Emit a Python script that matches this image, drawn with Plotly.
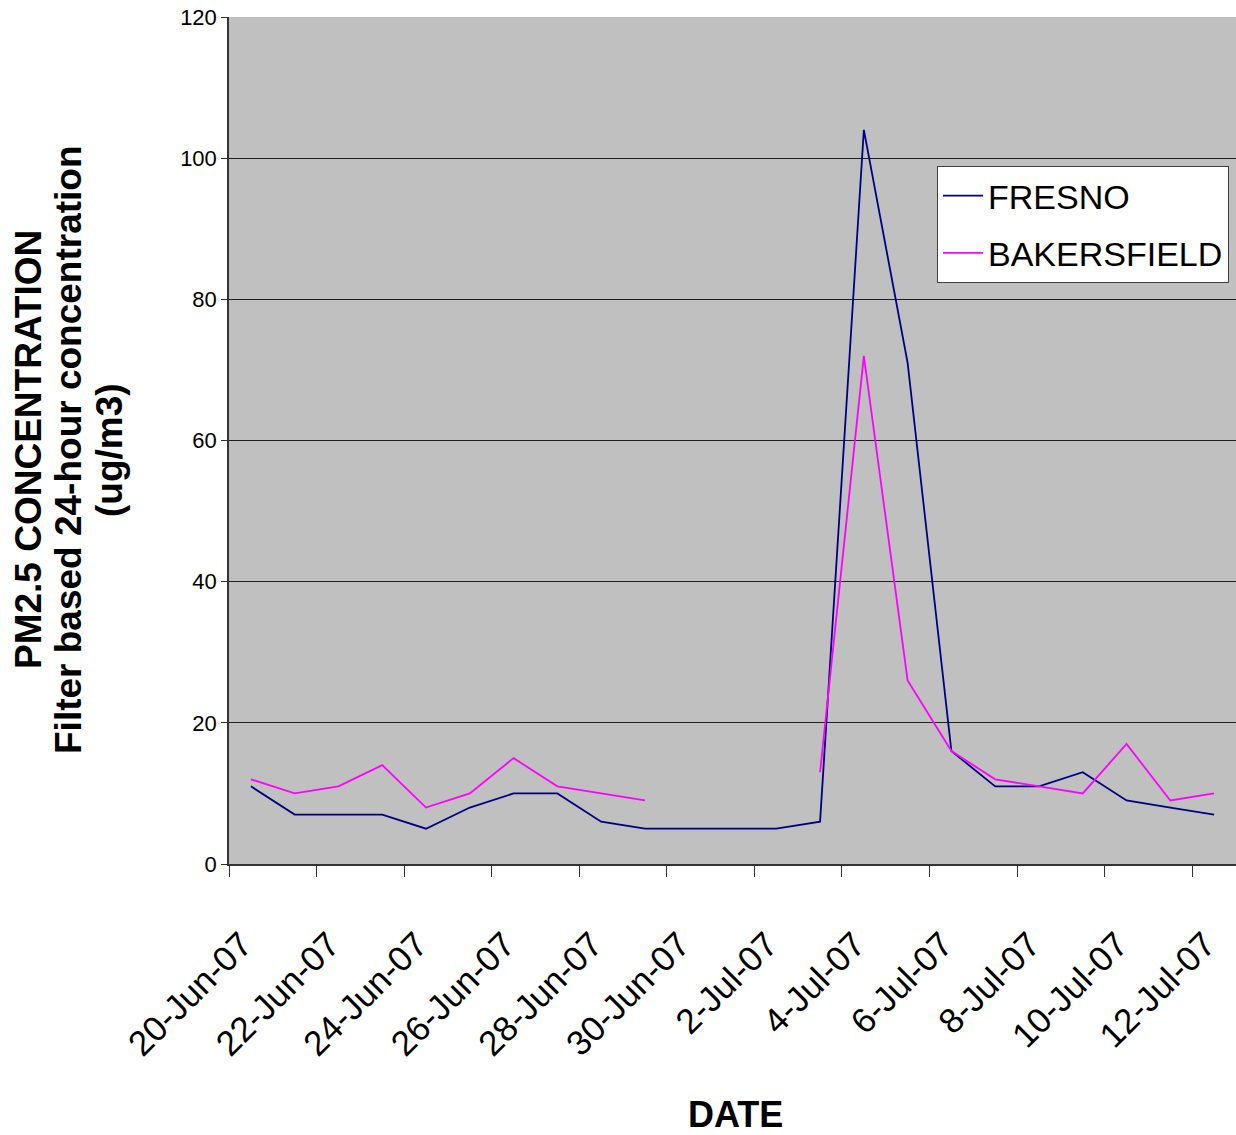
import plotly.graph_objects as go

dates = ["20-Jun-07", "21-Jun-07", "22-Jun-07", "23-Jun-07", "24-Jun-07", "25-Jun-07",
         "26-Jun-07", "27-Jun-07", "28-Jun-07", "29-Jun-07", "30-Jun-07", "1-Jul-07",
         "2-Jul-07", "3-Jul-07", "4-Jul-07", "5-Jul-07", "6-Jul-07", "7-Jul-07",
         "8-Jul-07", "9-Jul-07", "10-Jul-07", "11-Jul-07", "12-Jul-07"]
fresno = [11, 7, 7, 7, 5, 8, 10, 10, 6, 5, 5, 5, 5, 6, 104, 71, 16, 11, 11, 13, 9, 8, 7]
bakersfield = [12, 10, 11, 14, 8, 10, 15, 11, 10, 9, None, None, None, 13, 72, 26, 16, 12, 11, 10, 17, 9, 10]
y_ticks = [0, 20, 40, 60, 80, 100, 120]
y_title_lines = ["PM2.5 CONCENTRATION", "Filter based 24-hour concentration", "(ug/m3)"]

FONT = "Liberation Sans, Arial, sans-serif"
W, H = 1236, 1135
L, T, B = 229, 17, 271
PW, PH = W - L, H - T - B


def px(xp):
    return (xp - L) / PW


def py(yp):
    return (T + PH - yp) / PH


fig = go.Figure()
fig.add_trace(go.Scatter(x=dates, y=fresno, mode="lines", name="FRESNO",
                         line=dict(color="#000080", width=1.8), legendgroup="a",
                         connectgaps=False))
fig.add_trace(go.Scatter(x=dates, y=bakersfield, mode="lines", name="BAKERSFIELD",
                         line=dict(color="#FF00FF", width=1.8), legendgroup="b",
                         connectgaps=False))

fig.update_layout(
    width=W, height=H,
    margin=dict(l=L, r=0, t=T, b=B, autoexpand=False),
    paper_bgcolor="white",
    plot_bgcolor="#C0C0C0",
    font=dict(family=FONT, color="black"),
    showlegend=True,
    legend=dict(x=px(937), y=py(166), xanchor="left", yanchor="top",
                bgcolor="white", bordercolor="#404040", borderwidth=1,
                font=dict(size=34, family=FONT, color="black"),
                tracegroupgap=10, itemwidth=40),
    xaxis=dict(type="category", categoryorder="array", categoryarray=dates,
               range=[-0.5, len(dates) - 0.5],
               tickmode="linear", tick0=0, dtick=2,
               tickson="boundaries", ticks="outside", ticklen=11, tickcolor="#333",
               showgrid=False, showline=True, linecolor="#333", linewidth=1.5,
               tickangle=-45, tickfont=dict(size=35, family=FONT, color="black"),
               ticklabelstandoff=44, ticklabelshift=-9),
    yaxis=dict(range=[0, 120], tickmode="array", tickvals=y_ticks,
               ticks="outside", ticklen=6, tickcolor="#333",
               showgrid=True, gridcolor="#202020", gridwidth=1,
               showline=True, linecolor="#333", linewidth=1.5, zeroline=False,
               tickfont=dict(size=22, family=FONT, color="black")),
)

for xc, line in zip([28, 68, 109], y_title_lines):
    fig.add_annotation(
        text="<b>" + line + "</b>",
        xref="paper", yref="paper", x=px(xc), y=py(450), xanchor="center", yanchor="middle",
        textangle=-90, showarrow=False, align="center",
        font=dict(size=37, family=FONT, color="black"))

fig.add_annotation(
    text="<b>DATE</b>", xref="paper", yref="paper", x=px(735), y=py(1114),
    xanchor="center", yanchor="middle", showarrow=False,
    font=dict(size=36, family=FONT, color="black"))

fig.write_html("out.html", config={"displayModeBar": False},
               post_script="document.body.style.margin='0';")
